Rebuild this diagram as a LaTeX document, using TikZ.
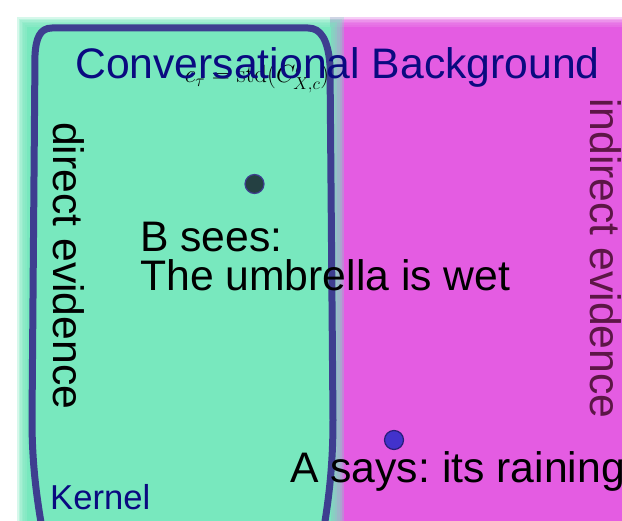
\documentclass[tikz,border=0pt]{standalone}
\usepackage[no-math]{fontspec}
\setmainfont{Liberation Sans}
\frenchspacing
\usepackage{xcolor}
\definecolor{KernelGreen}{RGB}{120,232,190}
\definecolor{BackMagenta}{RGB}{228,92,226}
\definecolor{KernelLine}{RGB}{62,62,144}
\definecolor{TitleNavy}{RGB}{10,10,128}
\definecolor{IndirectPlum}{RGB}{92,22,70}
\definecolor{DotSlate}{RGB}{36,64,66}
\definecolor{DotBlue}{RGB}{66,50,204}
\usepackage{tikz}
\usetikzlibrary{calc,positioning}

\begin{document}
\begin{tikzpicture}[
    x=1pt, y=-1pt,
    big/.style={inner sep=0pt, font=\fontsize{42.7}{39}\selectfont},
    small/.style={inner sep=0pt, font=\fontsize{34.6}{40}\selectfont},
    dot/.style={circle, inner sep=0pt, minimum size=19pt, line width=1.2pt}
  ]
  \clip (0,0) rectangle (622,521);
  \fill[white] (0,0) rectangle (622,521);
  % soft-edged background
  \foreach \i in {0,...,5}
    \fill[BackMagenta, opacity=0.3] (330,25-\i*1.6) rectangle (700,600);
  \fill[BackMagenta] (330,27) rectangle (700,600);
  % kernel area
  \foreach \i in {0,...,5}
    \fill[KernelGreen, opacity=0.3] (25-\i*1.6,25-\i*1.6) rectangle (333+\i*2.2,600);
  \fill[KernelGreen] (27,27) rectangle (331,600);
  % kernel outline
  \draw[KernelLine, line width=7pt, line join=round]
    (52,28) -- (308,28)
    .. controls (321,28) and (328,40) .. (330,65)
    -- (333,420)
    .. controls (333,470) and (328,510) .. (318,560)
    -- (48,560)
    .. controls (38,510) and (32,470) .. (32,420)
    -- (35,55)
    .. controls (36,38) and (40,28) .. (52,28) -- cycle;
  % points
  \node[dot, draw=KernelLine, fill=DotSlate] (seen) at (254.5,184) {};
  \node[dot, draw=DotBlue!60!black, fill=DotBlue] (said) at (394,440) {};
  % labels
  \node[inner sep=0pt, font=\fontsize{24}{28}\selectfont, anchor=base] (ctau) at (257,83) {$c_\tau = \mathrm{std}(C'_{X,c})$};
  \node[big, text=TitleNavy, anchor=base] (conv) at (337.5,79) {Conversational Background};
  \node[big, rotate=-90, anchor=base west] (direct) at (53,122) {direct evidence};
  \node[big, rotate=-90, anchor=base west, text=IndirectPlum] (indirect) at (590,98) {indirect evidence};
  \node[big, align=left, anchor=north west] (bsees) at (140,221.5) {B sees:\\The umbrella is wet};
  \node[big, anchor=base west] (asays) at (290,483) {A says: its raining};
  \node[small, text=TitleNavy, anchor=base west] (kernel) at (50,510) {Kernel};
\end{tikzpicture}
\end{document}
